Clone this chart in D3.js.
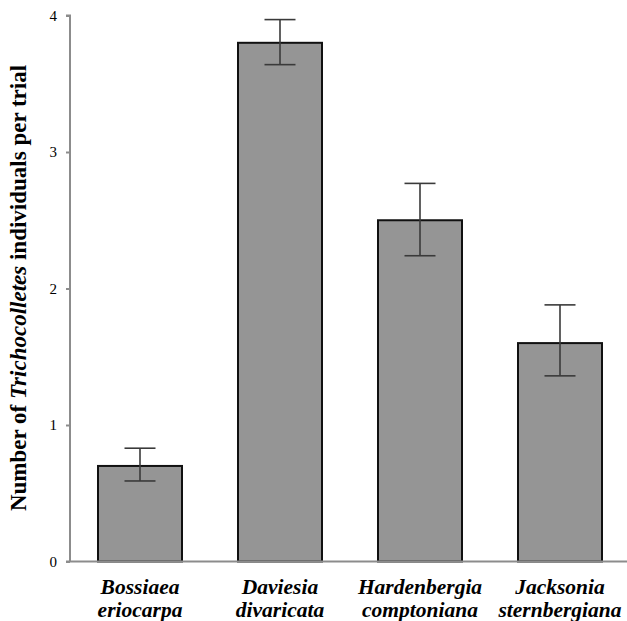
<!DOCTYPE html>
<html><head><meta charset="utf-8">
<script src="https://cdn.jsdelivr.net/npm/d3@7"></script>
<style>body{margin:0;background:#fff}svg{display:block}</style>
</head><body>
<script>
const categories = [["Bossiaea","eriocarpa"],["Daviesia","divaricata"],["Hardenbergia","comptoniana"],["Jacksonia","sternbergiana"]];
const means = [0.70, 3.80, 2.50, 1.60];
const lower = [0.59, 3.64, 2.24, 1.36];
const upper = [0.83, 3.97, 2.77, 1.88];
const yTicks = [0, 1, 2, 3, 4];

(function(){
const W = 627, H = 621;
const svg = d3.select("body").append("svg").attr("width", W).attr("height", H);
const mLeft = 70, mRight = 630, mTop = 15.5, mBottom = 561.5;
const x = d3.scaleBand().domain(d3.range(categories.length)).range([mLeft, mRight]).paddingInner(0.4).paddingOuter(0.2);
const y = d3.scaleLinear().domain([0, 4]).range([mBottom, mTop]);
const font = "'Liberation Serif','Times New Roman',serif";

// y axis
const yAxis = svg.append("g").attr("transform", `translate(${mLeft},0)`)
  .call(d3.axisLeft(y).tickValues(yTicks).tickSize(4).tickPadding(9).tickFormat(d3.format("d")));
yAxis.select(".domain").attr("stroke", "#8c8c8c").attr("stroke-width", 2).attr("d", `M-4,${mTop}H0V${mBottom}`);
yAxis.selectAll(".tick line").attr("stroke", "#8c8c8c").attr("stroke-width", 2);
yAxis.selectAll(".tick text").attr("font-family", font).attr("font-size", 15).attr("fill", "#000");

// bars
const g = svg.append("g");
g.selectAll("rect").data(means).join("rect")
  .attr("x", (d,i) => x(i)).attr("width", x.bandwidth())
  .attr("y", d => y(d)).attr("height", d => y(0) - y(d))
  .attr("fill", "#959595").attr("stroke", "#111").attr("stroke-width", 2);

// x axis line
svg.append("line").attr("x1", mLeft - 4).attr("x2", mRight).attr("y1", mBottom).attr("y2", mBottom)
  .attr("stroke", "#8c8c8c").attr("stroke-width", 2);

// error bars
const eb = svg.append("g").attr("stroke", "#3a3a3a").attr("stroke-width", 1.6);
means.forEach((m, i) => {
  const cx = x(i) + x.bandwidth() / 2;
  eb.append("line").attr("x1", cx).attr("x2", cx).attr("y1", y(lower[i])).attr("y2", y(upper[i]));
  eb.append("line").attr("x1", cx - 15.5).attr("x2", cx + 15.5).attr("y1", y(upper[i])).attr("y2", y(upper[i]));
  eb.append("line").attr("x1", cx - 15.5).attr("x2", cx + 15.5).attr("y1", y(lower[i])).attr("y2", y(lower[i]));
});

// category labels
categories.forEach((c, i) => {
  const cx = x(i) + x.bandwidth() / 2;
  const t = svg.append("text").attr("x", cx).attr("y", 594).attr("text-anchor", "middle")
    .attr("font-family", font).attr("font-size", 21.5).attr("font-weight", "bold").attr("font-style", "italic");
  t.append("tspan").attr("x", cx).text(c[0]);
  t.append("tspan").attr("x", cx).attr("dy", 23).text(c[1]);
});

// y title
const yt = svg.append("text").attr("transform", `translate(25.5,288) rotate(-90)`).attr("text-anchor", "middle")
  .attr("font-family", font).attr("font-size", 23).attr("font-weight", "bold");
yt.append("tspan").text("Number of ");
yt.append("tspan").attr("font-style", "italic").text("Trichocolletes");
yt.append("tspan").text(" individuals per trial");
})();
</script>
</body></html>
